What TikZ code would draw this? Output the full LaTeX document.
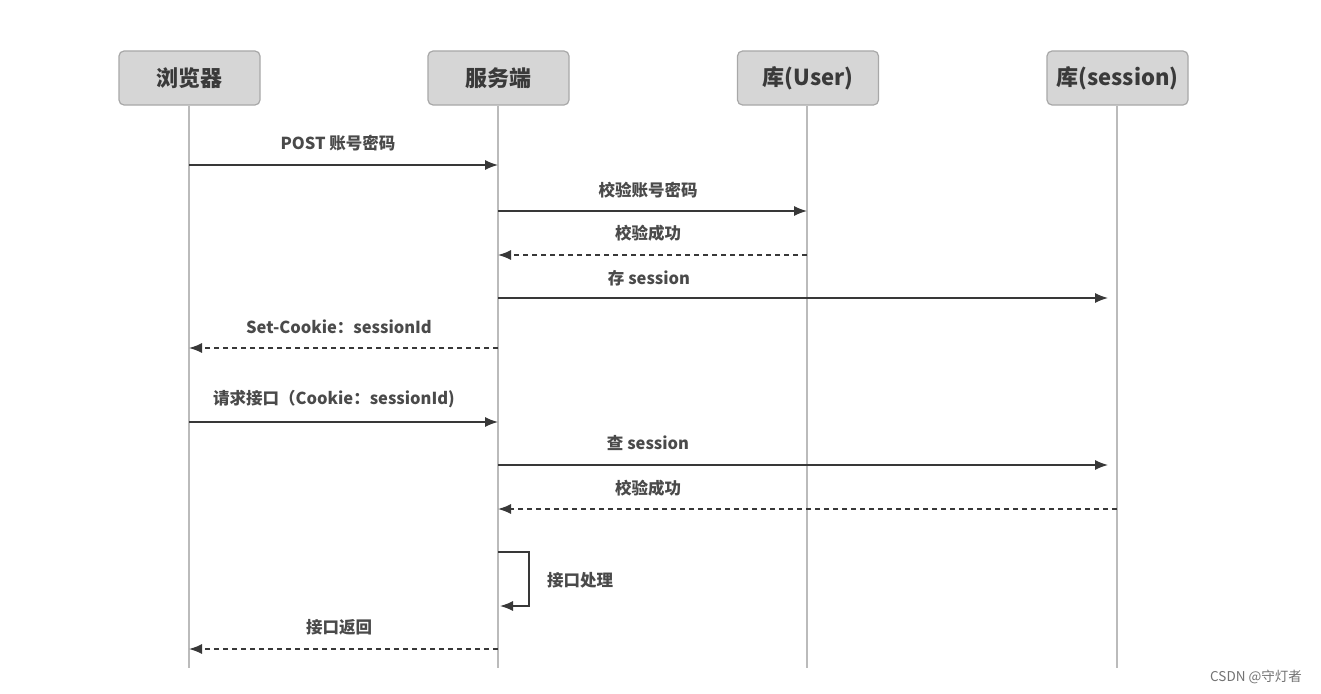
\documentclass[tikz,border=0pt]{standalone}
\usepackage{fontspec}
\setmainfont{Noto Sans CJK SC}
\usetikzlibrary{arrows.meta}
\definecolor{boxfill}{HTML}{D6D6D6}
\definecolor{boxdraw}{HTML}{A8A8A8}
\definecolor{life}{HTML}{BBBBBB}
\definecolor{msg}{HTML}{383838}
\definecolor{txt}{HTML}{3A3A3A}
\definecolor{ltxt}{HTML}{4A4A4A}
\begin{document}
\begin{tikzpicture}[x=1pt,y=-1pt,
  head/.style={draw=boxdraw, fill=boxfill, rounded corners=5pt, minimum width=141pt, minimum height=54pt, inner sep=0pt, font=\fontsize{22}{24}\selectfont\bfseries, text=txt, line width=1.2pt},
  lifeline/.style={draw=life, line width=1.5pt},
  msgline/.style={draw=msg, line width=1.4pt, -{Latex[length=13pt,width=10pt]}},
  reply/.style={msgline, dash pattern=on 5pt off 4pt},
  lbl/.style={font=\fontsize{16.5}{18}\selectfont\bfseries, text=ltxt, inner sep=0pt}]
\useasboundingbox (0,0) rectangle (1321,693);
\fill[white] (0,0) rectangle (1321,693);
% headers
\node[head] (br) at (189.5,78) {浏览器};
\node[head] (sv) at (498.5,78) {服务端};
\node[head] (us) at (808,78) {库(User)};
\node[head] (ss) at (1117.5,78) {库(session)};
% lifeline ends
\coordinate (brE) at (189,668);
\coordinate (svE) at (498,668);
\coordinate (usE) at (807,668);
\coordinate (ssE) at (1117,668);
\draw[lifeline] (br.south -| brE) -- (brE);
\draw[lifeline] (sv.south -| svE) -- (svE);
\draw[lifeline] (us.south -| usE) -- (usE);
\draw[lifeline] (ss.south -| ssE) -- (ssE);
% message points
\coordinate (b1) at (189,165); \coordinate (s1) at (498,165);
\coordinate (s2) at (498,211); \coordinate (u2) at (807,211);
\coordinate (u3) at (807,255); \coordinate (s3) at (498,255);
\coordinate (s4) at (498,298); \coordinate (x4) at (1108,298);
\coordinate (s5) at (498,348); \coordinate (b5) at (189,348);
\coordinate (b6) at (189,422); \coordinate (s6) at (498,422);
\coordinate (s7) at (498,465); \coordinate (x7) at (1108,465);
\coordinate (x8) at (1117,509); \coordinate (s8) at (498,509);
\coordinate (s9) at (498,552); \coordinate (s9b) at (500,606);
\coordinate (s10) at (498,649); \coordinate (b10) at (189,649);
% messages
\draw[msgline] (b1) -- (s1);
\node[lbl] (l1) at (338,143) {POST 账号密码};
\draw[msgline] (s2) -- (u2);
\node[lbl] (l2) at (648,190) {校验账号密码};
\draw[reply] (u3) -- (s3);
\node[lbl] (l3) at (648,233) {校验成功};
\draw[msgline] (s4) -- (x4);
\node[lbl] (l4) at (649,278) {存 session};
\draw[reply] (s5) -- (b5);
\node[lbl] (l5) at (339,327) {Set-Cookie：sessionId};
\draw[msgline] (b6) -- (s6);
\node[lbl] (l6) at (334,399) {请求接口（Cookie：sessionId)};
\draw[msgline] (s7) -- (x7);
\node[lbl] (l7) at (648,443) {查 session};
\draw[reply] (x8) -- (s8);
\node[lbl] (l8) at (648,488) {校验成功};
\draw[msgline] (s9) -- ++(31,0) |- (s9b);
\node[lbl] (l9) at (580,580) {接口处理};
\draw[reply] (s10) -- (b10);
\node[lbl] (l10) at (339,627) {接口返回};
% watermark
\node[font=\fontsize{13.5}{15}\selectfont, text=black!55, inner sep=0pt] (wm) at (1256,677) {CSDN @守灯者};
\end{tikzpicture}
\end{document}
